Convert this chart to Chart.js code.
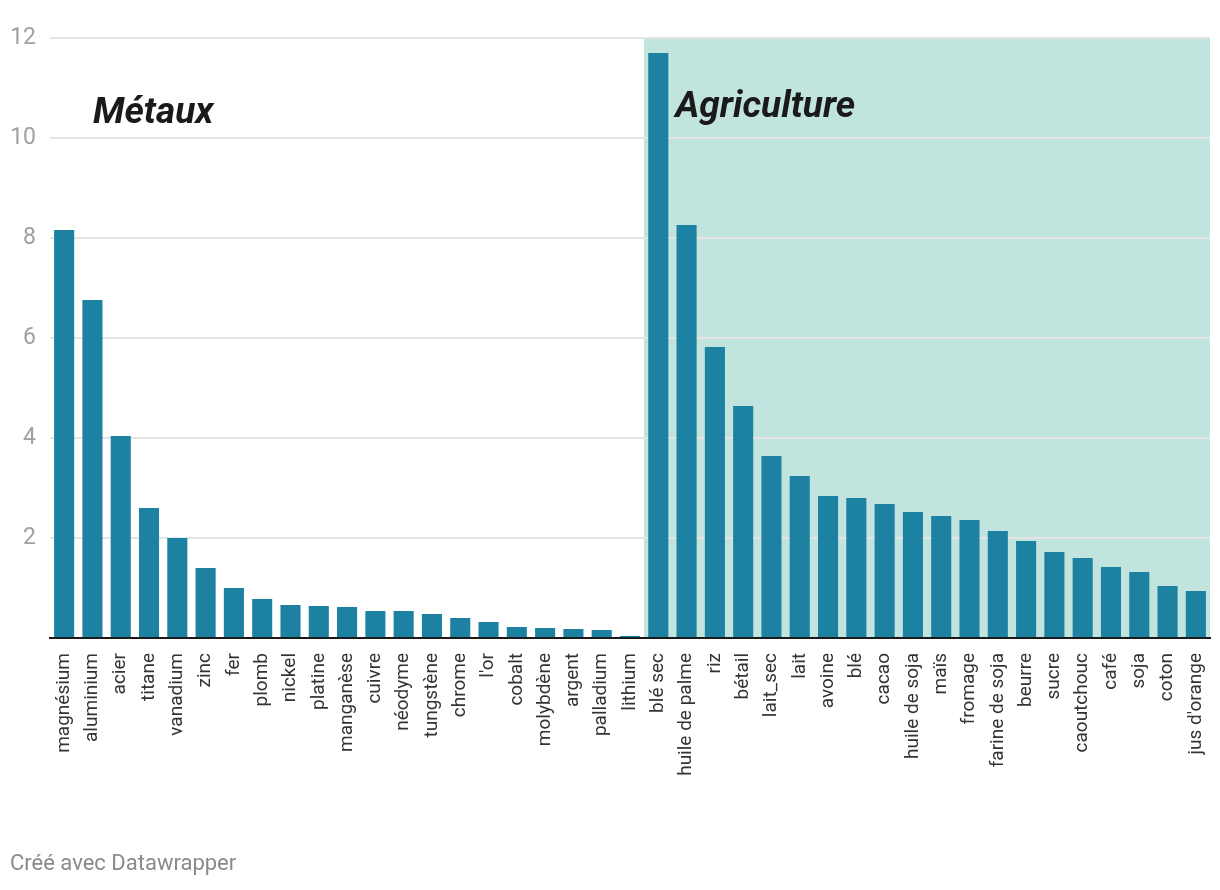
<!DOCTYPE html>
<html lang="fr">
<head>
<meta charset="UTF-8">
<title>Métaux / Agriculture</title>
<style>
    body { margin: 0; background: #fff; font-family: Roboto, sans-serif; }
    #wrap { position: relative; width: 1220px; height: 890px; }
    #footer { position: absolute; left: 10px; top: 850px; font-size: 22px; color: #8a8a8a; }
</style>
</head>
<body>
<div id="wrap">
    <canvas id="chart" width="1220" height="890"></canvas>
    <div id="footer">Créé avec Datawrapper</div>
</div>

<script src="https://cdn.jsdelivr.net/npm/chart.js"></script>
<script>
// valeurs
const metalLabels = ['magnésium', 'aluminium', 'acier', 'titane', 'vanadium', 'zinc', 'fer', 'plomb', 'nickel', 'platine',
    'manganèse', 'cuivre', 'néodyme', 'tungstène', 'chrome', "l'or", 'cobalt', 'molybdène', 'argent', 'palladium', 'lithium'];
const metalValues = [8.16, 6.76, 4.04, 2.6, 2.0, 1.4, 1.0, 0.78, 0.66, 0.64,
    0.62, 0.54, 0.54, 0.48, 0.4, 0.32, 0.22, 0.2, 0.18, 0.16, 0.04];

const agriLabels = ['blé sec', 'huile de palme', 'riz', 'bétail', 'lait_sec', 'lait', 'avoine', 'blé', 'cacao', 'huile de soja',
    'maïs', 'fromage', 'farine de soja', 'beurre', 'sucre', 'caoutchouc', 'café', 'soja', 'coton', "jus d'orange"];
const agriValues = [11.7, 8.26, 5.82, 4.64, 3.64, 3.24, 2.84, 2.8, 2.68, 2.52,
    2.44, 2.36, 2.14, 1.94, 1.72, 1.6, 1.42, 1.32, 1.04, 0.94];

const yTicks = [0, 2, 4, 6, 8, 10, 12];

const labels = metalLabels.concat(agriLabels);
const values = metalValues.concat(agriValues);

// fond vert derrière la partie agriculture + titres des groupes
const groupPlugin = {
    id: 'groups',
    beforeDraw(chart) {
        const {ctx, chartArea, scales} = chart;
        const x0 = scales.x.getPixelForValue(metalLabels.length - 0.5);
        const yTop = scales.y.getPixelForValue(yTicks[yTicks.length - 1]);
        ctx.save();
        ctx.fillStyle = '#c1e4de';
        ctx.fillRect(x0, yTop, chartArea.right - x0, chartArea.bottom - yTop);
        ctx.restore();
    },
    afterDatasetsDraw(chart) {
        const {ctx, chartArea, scales} = chart;
        const x0 = scales.x.getPixelForValue(metalLabels.length - 0.5);
        ctx.save();
        ctx.font = 'italic bold 37px Roboto';
        ctx.fillStyle = '#1a1a1a';
        ctx.textBaseline = 'alphabetic';
        ctx.textAlign = 'left';
        ctx.fillText('Métaux', chartArea.left + 43, scales.y.getPixelForValue(10.3));
        ctx.fillText('Agriculture', x0 + 31, scales.y.getPixelForValue(10.42));
        ctx.restore();
    }
};

new Chart(document.getElementById('chart'), {
    type: 'bar',
    data: {
        labels: labels,
        datasets: [{
            data: values,
            backgroundColor: '#1d81a2',
            categoryPercentage: 1,
            barPercentage: 0.71
        }]
    },
    options: {
        responsive: false,
        animation: false,
        layout: {padding: {top: 38, right: 10, left: 0, bottom: 0}},
        plugins: {
            legend: {display: false},
            tooltip: {enabled: false}
        },
        scales: {
            x: {
                grid: {display: false, drawTicks: false},
                border: {display: true, color: '#1a1a1a', width: 2},
                ticks: {
                    autoSkip: false,
                    minRotation: 90,
                    maxRotation: 90,
                    padding: 15,
                    color: '#333',
                    font: {family: 'Roboto', size: 19}
                },
                afterFit(scale) {
                    scale.height = 252;
                    scale.paddingLeft = 0;
                    scale.paddingRight = 0;
                }
            },
            y: {
                min: yTicks[0],
                max: yTicks[yTicks.length - 1],
                afterBuildTicks(scale) { scale.ticks = yTicks.map(v => ({value: v})); },
                grid: {
                    color: ctx => ctx.tick && ctx.tick.value === 0 ? 'rgba(0,0,0,0)' : '#e5e5e5',
                    lineWidth: 2,
                    drawTicks: false
                },
                border: {display: false},
                ticks: {
                    padding: 14,
                    color: '#a0a0a0',
                    font: {family: 'Roboto', size: 23},
                    callback: v => v === 0 ? '' : v
                },
                afterFit(scale) { scale.width = 50; }
            }
        }
    },
    plugins: [groupPlugin]
});
</script>
</body>
</html>
